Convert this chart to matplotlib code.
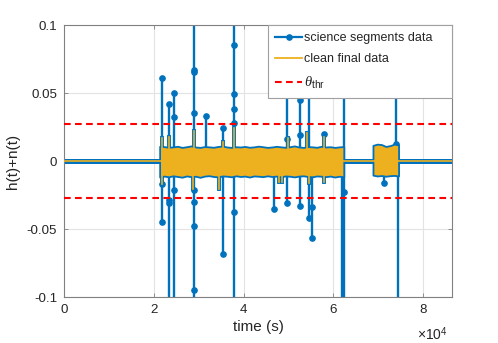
import numpy as np
import matplotlib
matplotlib.use("Agg")
import matplotlib.pyplot as plt
from matplotlib.lines import Line2D

plt.rcParams['font.family'] = ['Liberation Sans', 'DejaVu Sans']
plt.rcParams['mathtext.fontset'] = 'custom'
plt.rcParams['mathtext.rm'] = 'Liberation Sans'
plt.rcParams['mathtext.it'] = 'Liberation Serif:italic'
plt.rcParams['axes.unicode_minus'] = False

# ---------------- data ----------------
t_start, t_end = 0, 86400
theta_thr = 0.027

# segment 1 envelope (science-segment noise band)
seg1_t0, seg1_t1 = 21300, 62300
upper1 = [0.0108, 0.0106, 0.0101, 0.0104, 0.0108, 0.0100, 0.0105, 0.0111, 0.0103, 0.0100,
          0.0106, 0.0104, 0.0101, 0.0107, 0.0110, 0.0103, 0.0100, 0.0105, 0.0103, 0.0107,
          0.0101, 0.0104, 0.0109, 0.0105, 0.0100, 0.0103, 0.0108, 0.0104, 0.0101, 0.0105,
          0.0111, 0.0103, 0.0100, 0.0106, 0.0104, 0.0101, 0.0108, 0.0103, 0.0105, 0.0100,
          0.0104, 0.0106]
lower1 = [-0.0118, -0.0111, -0.0116, -0.0109, -0.0114, -0.0119, -0.0110, -0.0115, -0.0112, -0.0120,
          -0.0111, -0.0108, -0.0114, -0.0117, -0.0110, -0.0112, -0.0116, -0.0109, -0.0114, -0.0111,
          -0.0118, -0.0110, -0.0112, -0.0115, -0.0109, -0.0114, -0.0111, -0.0116, -0.0110, -0.0112,
          -0.0117, -0.0111, -0.0109, -0.0114, -0.0116, -0.0110, -0.0112, -0.0115, -0.0111, -0.0118,
          -0.0112, -0.0116]

# segment 2 envelope
seg2_t0, seg2_t1 = 68800, 74500
upper2 = [0.0115, 0.0124, 0.0121, 0.0107, 0.0113, 0.0124, 0.0118]
lower2 = [-0.0104, -0.0110, -0.0107, -0.0112, -0.0108, -0.0106, -0.0110]

# glitches in the science data (vertical excursions)
spike_t  = [21780, 23410, 24530, 29050, 31660, 35380, 37900, 46670, 49650,
            52460, 54470, 55230, 57970, 61900, 62300, 71280, 74020, 74400]
spike_hi = [0.0613, 0.0419, 0.0498, 0.3, 0.0333, 0.0240, 0.3, 0.0, 0.3,
            0.0449, 0.070, 0.0, 0.0196, 0.0, 0.3, 0.0, 0.3, 0.0]
spike_lo = [-0.0447, -0.3, -0.3, -0.3, 0.0, -0.0684, -0.3, -0.0353, -0.0311,
            -0.0331, -0.0417, -0.0564, 0.0, -0.3, -0.3, -0.0162, 0.0, -0.3]

# sample markers along the glitches
dot_t = [21780, 21780, 21780,
         23410, 23410, 23410,
         24530, 24530, 24530,
         29050, 29050, 29050, 29050, 29050, 29050, 29050,
         31660,
         35380, 35380,
         37900, 37900, 37900, 37900, 37900,
         46670,
         49650, 49650,
         52460, 52460, 52460,
         54470,
         55230, 55230,
         57970,
         62300,
         71280,
         74020]
dot_v = [0.0613, -0.0447, -0.0171,
         0.0419, -0.0287, -0.0311,
         0.0498, 0.0322, -0.0213,
         0.0670, 0.0657, 0.0351, -0.0213, -0.0304, -0.0480, -0.0949,
         0.0333,
         0.0240, -0.0684,
         0.0854, 0.0493, 0.0380, 0.0282, -0.0375,
         -0.0353,
         0.0162, -0.0311,
         0.0449, 0.0191, -0.0331,
         -0.0417,
         -0.0564, -0.0340,
         0.0196,
         -0.0226,
         -0.0162,
         0.0125]

# residual sub-threshold excursions in the clean data
clean_t = [21780, 23410, 29050, 35380, 37900, 49790, 54110, 57970,
           21780, 28830, 34410, 47790, 48540, 54470, 57970]
clean_v = [0.0167, 0.0179, 0.0223, 0.0142, 0.0240, 0.0169, 0.0204, 0.0179,
           -0.0171, -0.0208, -0.0208, -0.0152, -0.0152, -0.0164, -0.0155]

xticks = [0, 20000, 40000, 60000, 80000]
xtick_labels = ["0", "2", "4", "6", "8"]
yticks = [-0.1, -0.05, 0, 0.05, 0.1]
ytick_labels = ["-0.1", "-0.05", "0", "0.05", "0.1"]

# ---------------- style ----------------
blue = '#0072BD'
orange = '#EDB120'
grey = '#262626'

fig = plt.figure(figsize=(4.98, 3.43), dpi=100)
ax = fig.add_axes([64/498, 46/343, 388/498, 272/343])

env1_t = np.linspace(seg1_t0, seg1_t1, len(upper1))
env2_t = np.linspace(seg2_t0, seg2_t1, len(upper2))

# science data (blue)
ax.plot([t_start, t_end], [0, 0], color=blue, lw=3.6, solid_capstyle='round', zorder=2)
for t, hi, lo in zip(spike_t, spike_hi, spike_lo):
    ax.plot([t, t], [lo, hi], color=blue, lw=1.7, zorder=2.1)
ax.plot(dot_t, dot_v, 'o', color=blue, ms=3.8, ls='none', zorder=2.2)
for t, v in zip(clean_t, clean_v):
    ax.plot([t, t], [0, v], color=blue, lw=2.8, zorder=2.5)

# band: blue outline, orange clean fill
ax.fill_between(env1_t, lower1, upper1, facecolor=orange, edgecolor=blue, lw=1.3, zorder=3)
ax.fill_between(env2_t, lower2, upper2, facecolor=orange, edgecolor=blue, lw=1.3, zorder=3)

# clean data (orange)
ax.plot([t_start, t_end], [0, 0], color=orange, lw=1.2, zorder=3.2)
for t, v in zip(clean_t, clean_v):
    ax.plot([t, t], [0, v], color=orange, lw=1.2, zorder=3.5)

# thresholds
for s in (1, -1):
    ax.plot([t_start, t_end], [s*theta_thr, s*theta_thr], color='red', lw=1.5,
            ls=(0, (3.2, 2.1)), zorder=4)

ax.set_xlim(t_start, t_end)
ax.set_ylim(-0.1, 0.1)
ax.set_xticks(xticks)
ax.set_xticklabels(xtick_labels)
ax.set_yticks(yticks)
ax.set_yticklabels(ytick_labels)
ax.tick_params(direction='in', length=3, width=0.6, colors='#808080', labelcolor=grey,
               labelsize=9.6, top=True, right=True, pad=5)
ax.grid(True, color='#e3e3e3', lw=0.8)
ax.set_axisbelow(True)
for sp in ax.spines.values():
    sp.set_color('#808080')
    sp.set_linewidth(0.8)

ax.set_xlabel('time (s)', fontsize=11, color=grey, labelpad=3)
ax.set_ylabel('h(t)+n(t)', fontsize=11, color=grey, labelpad=5)
ax.text(0.99, -0.138, r'$\times10^{4}$', transform=ax.transAxes, ha='right', va='center',
        fontsize=10, color=grey)

handles = [Line2D([], [], color=blue, lw=1.6, marker='o', ms=3.8),
           Line2D([], [], color=orange, lw=1.3),
           Line2D([], [], color='red', lw=1.5, ls=(0, (3.2, 2.1)))]
labels = ['science segments data', 'clean final data', r'$\theta_{\mathrm{thr}}$']
leg_w = 184 / 388
leg = ax.legend(handles, labels, loc='upper right', bbox_to_anchor=(1 - leg_w, 0, leg_w, 1),
                mode='expand', borderaxespad=0,
                fontsize=9, fancybox=False, framealpha=1, edgecolor='#a0a0a0',
                handlelength=2.2, handletextpad=0.1, borderpad=0.55, labelspacing=0.75)
leg.get_frame().set_linewidth(0.8)
leg.set_zorder(10)
for txt in leg.get_texts():
    txt.set_color(grey)
leg.get_texts()[2].set_fontsize(10.5)

fig.savefig('out.png', dpi=100)
